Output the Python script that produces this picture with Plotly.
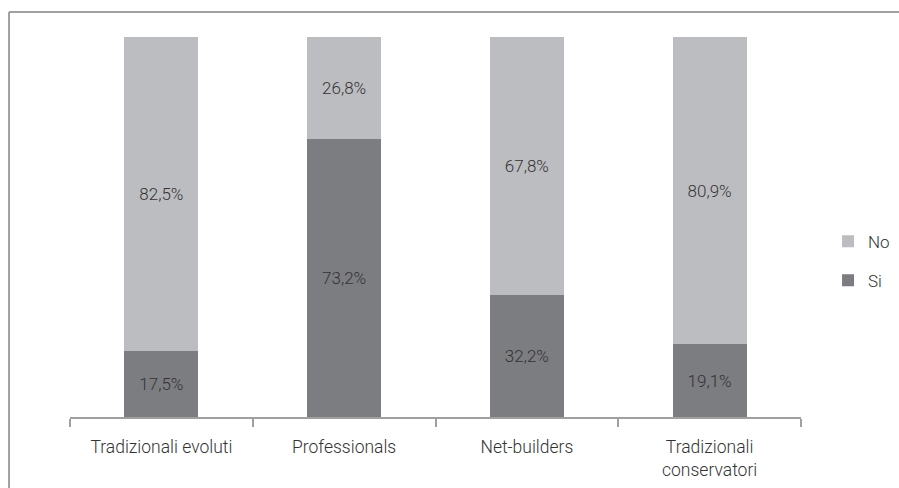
import plotly.graph_objects as go

categories = ["Tradizionali evoluti", "Professionals", "Net-builders", "Tradizionali<br>conservatori"]
si_values = [17.5, 73.2, 32.2, 19.1]
no_values = [82.5, 26.8, 67.8, 80.9]

COL_SI = "#7c7d81"
COL_NO = "#bcbdc0"
TXT = "#333333"
FONT = "Roboto"
WEIGHT = 300


def pct(v):
    return f"{v:.1f}%".replace(".", ",")


fig = go.Figure()
fig.add_bar(
    x=categories, y=si_values, name="Si", legendgroup="si", legendrank=2,
    marker=dict(color=COL_SI, line=dict(width=0)),
    text=[pct(v) for v in si_values], textposition="inside", insidetextanchor="middle",
    textfont=dict(family=FONT, size=17, color=TXT, weight=WEIGHT), textangle=0,
)
fig.add_bar(
    x=categories, y=no_values, name="No", legendgroup="no", legendrank=1,
    marker=dict(color=COL_NO, line=dict(width=0)),
    text=[pct(v) for v in no_values], textposition="inside", insidetextanchor="middle",
    textfont=dict(family=FONT, size=17, color=TXT, weight=WEIGHT), textangle=0,
)

# outer frame (top and left edges visible)
fig.add_shape(type="line", xref="paper", yref="paper", x0=-0.0834, x1=1.2, y0=1.066, y1=1.066,
              line=dict(color="#a0a0a0", width=2))
fig.add_shape(type="line", xref="paper", yref="paper", x0=-0.0834, x1=-0.0834, y0=1.066, y1=-0.3,
              line=dict(color="#a0a0a0", width=2))

fig.update_layout(
    barmode="stack",
    bargap=0.595,
    width=899, height=488,
    margin=dict(l=70, r=98, t=37, b=71, autoexpand=False),
    plot_bgcolor="white", paper_bgcolor="white",
    font=dict(family=FONT, size=17, color=TXT, weight=WEIGHT),
    showlegend=True,
    legend=dict(
        x=1.037, xanchor="left", y=0.41, yanchor="middle",
        traceorder="grouped", font=dict(family=FONT, size=17, color=TXT, weight=WEIGHT),
        itemwidth=30, tracegroupgap=14, bgcolor="rgba(0,0,0,0)",
        indentation=0,
    ),
    xaxis=dict(
        showline=True, linecolor="#a0a0a0", linewidth=2,
        ticks="outside", tickson="boundaries", ticklen=8, tickcolor="#a0a0a0", tickwidth=2,
        ticklabelstandoff=13,
        tickfont=dict(family=FONT, size=17.5, color=TXT, weight=WEIGHT), showgrid=False,
    ),
    yaxis=dict(range=[0, 100], visible=False, showgrid=False, zeroline=False),
)

fig.write_html("out.html")
